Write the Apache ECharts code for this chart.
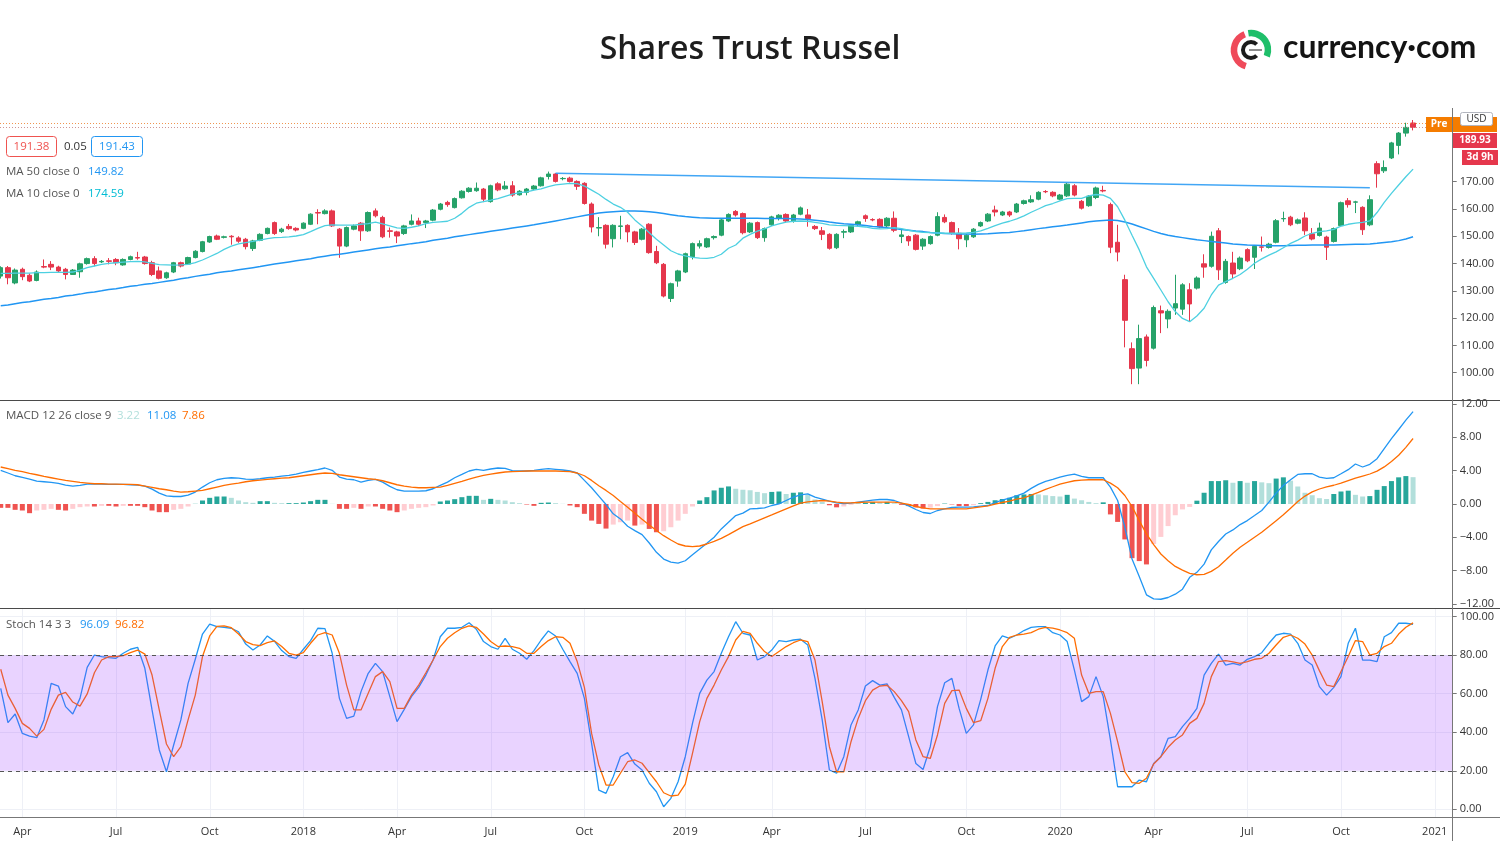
<!DOCTYPE html>
<html><head><meta charset="utf-8">
<script src="https://cdn.jsdelivr.net/npm/echarts@6/dist/echarts.min.js"></script>
<style>html,body{margin:0;padding:0;background:#fff}#c{width:1500px;height:841px}</style>
</head><body><div id="c"></div>
<script>
// ---------- data ----------
const startWeek = '2017-03-13';   // first weekly bar (Monday)
const weekCount = 202;            // 197 bars + 5 empty future weeks
const xTickDates = ['2017-04-03','2017-07-03','2017-10-02','2018-01-01','2018-04-02','2018-07-02','2018-10-01','2019-01-07','2019-04-01','2019-07-01','2019-10-07','2020-01-06','2020-04-06','2020-07-06','2020-10-05','2021-01-04'];
const xTickLabels = ['Apr','Jul','Oct','2018','Apr','Jul','Oct','2019','Apr','Jul','Oct','2020','Apr','Jul','Oct','2021'];
const priceTicks = [100,110,120,130,140,150,160,170];
const macdTicks = [-12,-8,-4,0,4,8,12];
const stochTicks = [0,20,40,60,80,100];

const candleOpen = [
135.4,138.5,132.9,137.9,135.7,133.8,138.9,139.7,138.7,137.9,
136.0,137.0,140.0,141.8,140.6,141.0,141.5,139.5,141.5,142.2,
142.4,140.3,137.3,134.8,136.9,140.3,139.8,142.2,144.4,147.9,
150.1,149.6,150.0,149.4,148.9,145.5,148.5,151.0,155.0,151.7,
153.6,152.9,152.9,154.4,158.7,158.3,159.3,152.6,146.4,152.6,
154.8,152.0,159.3,156.9,152.0,151.6,151.0,154.4,155.6,155.0,
155.9,159.9,162.4,160.5,164.1,166.4,166.7,167.3,162.7,169.2,
167.4,168.5,165.2,166.1,167.3,168.5,171.9,172.8,171.1,171.3,
170.1,169.4,161.8,153.0,154.0,149.1,153.6,154.0,151.6,148.9,
154.4,144.4,139.7,127.2,133.6,136.9,142.5,146.4,146.1,149.5,
150.4,155.6,159.1,158.3,151.6,155.0,149.5,154.2,156.6,158.0,
155.4,158.1,157.8,153.6,152.0,150.7,145.8,151.5,151.6,154.2,
157.5,156.1,156.2,153.8,156.6,149.9,149.9,150.4,146.4,147.3,
150.4,156.9,155.0,151.1,148.7,149.8,153.8,155.6,159.6,157.8,
158.9,158.9,162.0,162.6,163.6,166.4,166.1,163.6,164.8,168.5,
162.8,161.2,164.2,166.8,161.6,147.8,134.1,108.8,101.7,113.1,
109.0,122.7,119.7,123.7,123.3,130.4,131.0,139.9,139.0,152.0,
133.1,140.2,138.1,145.1,142.3,146.1,145.9,147.8,156.4,157.0,
154.8,156.7,150.9,150.3,149.7,148.1,153.9,163.0,162.5,160.6,
154.2,176.6,174.0,178.7,183.3,187.8,191.5];
const candleClose = [
138.5,134.8,137.6,135.2,133.6,136.9,138.7,138.7,137.3,136.0,
137.6,139.9,141.8,140.0,140.8,140.8,140.3,141.5,142.5,142.0,
140.0,136.0,134.6,136.6,140.3,139.1,142.2,144.5,148.0,149.9,
148.9,149.8,149.8,148.2,146.2,148.3,150.7,152.9,151.0,152.6,
152.8,152.3,154.8,158.1,158.5,159.3,153.8,146.4,153.2,153.8,
152.0,158.7,157.5,149.8,151.8,150.1,153.8,155.6,154.4,155.6,
159.6,161.8,161.6,163.8,166.5,167.6,167.6,163.6,168.5,167.0,
168.4,165.1,166.5,167.3,168.4,171.4,172.8,170.1,171.2,170.1,
168.3,162.0,153.4,153.2,147.1,154.0,153.8,151.6,147.7,152.6,
144.0,140.3,128.1,132.6,137.3,143.6,147.3,147.3,149.1,149.9,
156.0,158.0,157.8,151.3,154.8,149.5,152.8,157.1,157.7,155.6,
157.8,160.4,156.5,152.8,150.7,145.6,150.7,151.7,154.0,155.3,
156.5,156.0,153.4,156.6,152.2,150.5,148.3,145.2,148.9,149.9,
157.2,155.3,151.1,149.1,150.4,152.6,155.0,158.1,158.9,158.9,
157.8,161.8,163.0,163.4,166.1,166.3,164.8,165.1,169.1,165.1,
160.3,164.7,167.7,166.6,146.0,144.2,119.2,101.5,112.5,104.5,
123.9,121.9,122.5,125.3,132.2,125.2,134.7,138.7,150.0,137.7,
140.8,136.2,142.0,141.0,146.3,146.0,147.1,155.7,156.5,154.2,
156.0,152.0,149.0,153.0,146.0,152.8,162.3,161.6,162.6,152.4,
163.4,172.9,175.2,184.2,187.8,189.9,189.93];
const candleLow = [
134.5,132.4,132.4,133.9,133.2,133.5,138.3,137.6,136.7,134.2,
135.8,134.8,139.6,139.0,140.2,139.7,139.4,139.2,141.2,141.4,
139.6,135.4,134.2,134.4,136.5,138.6,139.5,141.9,144.1,147.6,
148.6,149.2,146.9,147.6,145.2,144.6,148.2,150.7,150.5,151.2,
152.4,151.8,152.6,154.1,154.4,158.0,153.4,142.1,146.0,152.2,
148.3,151.6,156.9,149.3,149.5,147.5,150.5,154.0,153.8,153.0,
155.5,159.5,160.8,160.2,163.8,166.0,166.3,162.5,162.3,166.5,
167.0,164.5,164.9,165.0,167.0,168.2,170.8,169.7,170.5,169.7,
167.0,161.6,151.4,150.0,145.5,145.9,148.9,147.8,146.8,148.5,
143.6,139.8,127.6,125.9,131.5,136.5,141.5,145.5,145.7,148.8,
150.0,155.2,157.2,150.7,151.2,149.0,148.0,153.8,155.8,155.0,
155.0,157.7,153.5,152.3,148.6,145.1,145.3,149.3,151.2,153.8,
155.3,155.5,152.9,153.4,151.5,147.5,146.5,144.8,145.0,146.9,
150.0,154.8,150.6,145.2,146.0,149.4,153.4,155.2,157.3,157.4,
157.1,158.5,161.6,162.2,163.2,165.8,164.3,163.2,164.4,164.6,
159.8,160.8,163.6,166.1,143.8,140.8,109.3,95.8,95.8,102.3,
108.5,114.5,116.3,121.2,121.2,118.7,130.5,134.8,138.5,134.0,
132.6,134.6,137.6,140.5,138.0,144.4,145.5,147.4,155.3,153.7,
154.4,150.5,148.5,149.9,141.3,147.7,153.5,160.5,158.5,150.5,
153.7,167.8,173.2,178.3,180.0,186.5,188.8];
const candleHigh = [
139.0,139.1,138.2,138.5,136.4,137.5,141.5,140.9,139.2,138.4,
138.0,140.3,142.2,142.7,141.3,142.0,142.0,141.9,142.9,144.3,
142.8,141.0,138.9,137.0,140.6,140.7,142.5,144.9,148.3,150.2,
150.6,150.2,150.4,150.0,149.4,148.7,151.1,153.2,155.4,153.1,
154.5,153.3,155.1,158.4,159.9,159.9,159.8,153.0,153.6,154.3,
155.2,159.1,160.2,157.5,153.2,152.0,154.2,158.0,156.8,156.0,
160.0,162.2,163.0,164.2,166.9,168.0,169.7,167.7,168.9,169.8,
170.2,170.2,166.9,167.7,168.8,171.8,173.7,173.1,171.7,171.8,
170.5,169.8,162.4,157.0,154.4,154.4,157.5,154.4,152.0,153.0,
154.8,146.5,140.2,133.0,137.7,144.0,147.7,148.5,149.5,150.3,
156.4,158.4,159.6,158.7,155.2,155.4,153.2,157.5,158.1,158.4,
158.2,160.9,160.0,154.1,153.4,151.1,151.1,152.5,154.4,155.7,
158.0,156.6,156.6,157.0,159.1,152.5,150.3,150.8,149.3,150.3,
158.8,158.0,155.4,153.0,150.8,153.0,155.4,158.5,161.2,159.3,
159.3,162.2,163.4,165.0,166.5,166.9,166.5,165.5,169.5,169.1,
163.3,165.1,168.2,168.5,162.3,154.2,135.9,111.1,117.6,114.0,
124.6,124.6,123.2,135.9,132.8,132.8,135.3,143.4,151.7,153.0,
141.7,144.3,142.6,145.6,146.8,149.9,147.6,156.3,159.0,157.5,
156.5,158.8,153.0,155.0,150.2,153.2,162.7,164.0,163.0,161.0,
165.0,177.5,177.8,184.6,188.2,191.6,192.6];
const ma50 = [
124.5,124.8,125.3,125.7,126.0,126.5,126.9,127.2,127.6,128.1,
128.4,128.8,129.3,129.6,130.0,130.5,130.8,131.2,131.7,132.0,
132.4,132.7,133.1,133.5,133.9,134.4,134.8,135.3,135.7,136.1,
136.6,137.0,137.3,137.7,138.1,138.5,138.9,139.4,139.8,140.2,
140.6,141.0,141.4,141.8,142.3,142.7,143.1,143.4,143.8,144.2,
144.6,145.0,145.4,145.8,146.1,146.5,146.9,147.3,147.6,148.0,
148.5,148.9,149.3,149.8,150.2,150.6,151.0,151.4,151.8,152.2,
152.6,153.0,153.4,153.8,154.2,154.7,155.1,155.6,156.1,156.6,
157.1,157.6,158.1,158.5,158.8,159.0,159.2,159.3,159.3,159.2,
159.0,158.7,158.3,157.9,157.5,157.2,157.0,156.8,156.7,156.6,
156.6,156.6,156.6,156.6,156.6,156.6,156.5,156.5,156.5,156.5,
156.4,156.3,156.1,155.9,155.6,155.2,154.9,154.6,154.4,154.2,
153.9,153.6,153.4,153.1,152.8,152.5,152.2,151.9,151.7,151.4,
151.2,151.0,150.9,150.8,150.8,150.7,150.8,150.9,151.1,151.3,
151.4,151.7,152.0,152.4,152.8,153.1,153.5,153.8,154.1,154.5,
154.9,155.3,155.6,155.8,156.0,155.8,155.2,154.5,153.6,152.7,
151.8,151.0,150.4,149.9,149.5,149.1,148.7,148.4,148.1,147.8,
147.5,147.2,147.0,146.8,146.7,146.6,146.5,146.5,146.5,146.6,
146.7,146.7,146.8,146.8,146.8,146.8,146.9,147.0,147.1,147.1,
147.2,147.4,147.7,148.0,148.4,149.0,149.82];
const ma10 = [
136.4,136.4,136.5,136.5,136.5,136.7,136.7,136.8,136.8,136.8,
136.9,137.6,138.5,139.1,139.7,140.1,140.3,140.5,140.7,140.8,
140.6,140.1,139.6,139.5,139.4,139.5,139.7,140.3,141.3,142.5,
143.7,145.2,146.4,147.2,147.7,148.1,148.6,149.1,149.5,149.6,
149.8,150.1,150.6,151.7,152.9,153.9,154.2,154.1,154.1,154.1,
154.4,154.6,155.2,154.5,153.8,153.1,152.9,153.3,153.8,154.6,
155.1,155.3,155.5,156.6,158.4,160.6,162.1,162.7,163.2,163.8,
164.6,165.4,166.0,166.3,166.9,167.4,168.2,168.8,169.1,169.4,
169.3,168.4,166.9,165.4,163.5,161.8,160.6,158.8,156.0,153.8,
151.3,148.9,146.8,144.7,143.5,142.8,142.3,142.0,141.9,142.3,
143.4,145.6,146.8,149.3,150.7,151.9,152.7,153.8,154.5,155.2,
155.5,155.6,155.5,155.1,154.7,154.2,154.0,153.9,153.8,153.6,
153.4,152.9,152.7,152.8,153.2,152.8,152.2,151.7,151.4,151.3,
151.2,151.1,151.1,151.1,151.2,151.4,152.0,152.9,153.9,154.8,
155.5,156.4,157.5,158.8,160.0,161.2,162.0,163.0,163.8,163.9,
163.9,164.8,165.3,165.1,163.9,160.8,155.9,150.4,145.0,138.8,
134.6,130.3,126.0,122.4,119.9,118.7,120.8,123.6,128.5,132.1,
133.4,134.6,136.0,137.9,140.1,141.7,143.1,144.3,145.8,147.4,
148.6,150.1,151.1,151.7,152.0,152.5,153.7,154.4,154.8,155.1,
155.6,158.7,162.4,165.7,168.8,171.8,174.59];
// straight drawn line: [bar index, value]
const trendLineStart = [77, 173.1];
const trendLineEnd = [190, 167.8];
const lastPrice = 189.93;
const prePrice = 191.43;

const macdLine = [
4.03,3.72,3.39,3.19,2.99,2.75,2.67,2.59,2.47,2.27,
2.15,2.23,2.39,2.43,2.39,2.35,2.35,2.35,2.31,2.27,
2.15,1.79,1.31,0.98,0.90,0.90,1.06,1.43,2.03,2.55,
2.91,3.07,3.15,3.11,2.99,2.95,3.03,3.15,3.23,3.35,
3.43,3.59,3.80,3.96,4.12,4.32,4.04,3.23,2.99,2.91,
2.63,2.83,2.95,2.63,2.11,1.71,1.55,1.55,1.55,1.59,
1.83,2.23,2.63,3.15,3.55,3.96,4.16,4.04,4.20,4.32,
4.28,4.00,3.96,3.96,4.04,4.16,4.24,4.16,4.08,3.96,
3.72,2.83,1.95,0.94,-0.06,-1.18,-1.79,-2.67,-3.19,-3.67,
-4.68,-5.80,-6.61,-6.97,-7.09,-6.81,-6.08,-5.40,-4.72,-3.99,
-2.99,-2.19,-1.39,-1.10,
-0.58,-0.54,-0.46,-0.18,0.02,0.42,0.82,1.10,1.22,0.82,
0.58,0.34,0.14,0.06,0.10,0.22,0.34,0.46,0.54,0.54,
0.42,0.10,-0.22,-0.66,-1.02,-1.14,-0.78,-0.58,-0.42,-0.38,
-0.38,-0.34,-0.26,-0.18,0.18,0.46,0.70,0.98,1.31,1.87,
2.35,2.71,2.95,3.23,3.43,3.59,3.31,3.15,3.15,3.15,
2.03,0.42,-2.79,-6.6,-8.7,-10.9,-11.39,-11.43,-11.22,-10.82,
-10.22,-8.8,-8.2,-7.21,-5.5,-4.5,-3.6,-3.11,-2.47,-1.99,
-1.39,-0.78,0.22,1.31,2.23,2.91,3.55,3.63,3.63,3.23,
3.07,3.15,3.63,4.12,4.80,4.44,4.76,5.44,6.65,7.85,
8.94,10.06,11.08];
const macdSignal = [
4.44,4.24,4.04,3.88,3.68,3.51,3.31,3.15,2.99,2.83,
2.71,2.59,2.51,2.43,2.43,2.39,2.39,2.35,2.35,2.31,
2.15,1.99,1.83,1.71,1.55,1.43,1.47,1.55,1.63,1.83,
2.03,2.23,2.39,2.51,2.67,2.79,2.87,2.95,3.03,3.11,
3.15,3.27,3.39,3.51,3.63,3.72,3.68,3.51,3.39,3.27,
3.15,3.03,2.95,2.79,2.55,2.31,2.15,2.03,1.95,1.95,
1.99,2.03,2.23,2.47,2.71,2.99,3.23,3.43,3.59,3.72,
3.84,3.88,3.92,3.96,3.96,3.96,3.96,3.96,3.92,3.88,
3.72,3.39,2.83,2.19,1.63,1.02,0.30,-0.38,-1.10,-1.83,
-2.51,-3.19,-3.80,-4.32,-4.80,-5.04,-5.12,-5.04,-4.80,-4.48,
-4.12,-3.67,-3.19,-2.71,
-2.39,-2.03,-1.67,-1.31,-0.94,-0.58,-0.22,0.10,0.26,0.34,
0.42,0.34,0.22,0.14,0.14,0.18,0.22,0.22,0.22,0.22,
0.22,0.10,-0.06,-0.30,-0.46,-0.58,-0.58,-0.58,-0.58,-0.58,
-0.58,-0.46,-0.34,-0.22,-0.02,0.18,0.34,0.58,0.74,1.06,
1.39,1.75,2.07,2.39,2.59,2.79,2.87,2.91,2.91,2.91,
2.51,1.95,1.02,-0.30,-1.99,-3.59,-4.88,-6.00,-6.81,-7.49,
-7.93,-8.33,-8.49,-8.45,-8.09,-7.53,-6.73,-5.92,-5.20,-4.60,
-3.99,-3.39,-2.71,-2.00,-1.30,-0.50,0.30,0.95,1.45,1.80,
2.05,2.25,2.50,2.80,3.10,3.35,3.60,3.95,4.45,5.10,
5.85,6.80,7.86];
const macdHist = [
-0.46,-0.46,-0.70,-0.78,-1.10,-0.78,-0.70,-0.58,-0.70,-0.78,
-0.58,-0.38,-0.30,-0.30,-0.22,-0.22,-0.30,-0.22,-0.22,-0.22,
-0.38,-0.78,-0.98,-0.98,-0.70,-0.58,-0.30,0.02,0.42,0.74,
0.90,0.90,0.74,0.42,0.22,0.14,0.34,0.34,0.14,0.10,
0.10,0.10,0.18,0.34,0.50,0.50,0.02,-0.58,-0.58,-0.46,
-0.58,-0.30,-0.30,-0.58,-0.78,-0.98,-0.78,-0.58,-0.46,-0.38,
-0.18,0.30,0.42,0.58,0.82,0.98,0.98,0.50,0.62,0.50,
0.42,0.22,0.10,-0.06,-0.22,0.14,0.18,0.10,0.02,-0.18,
-0.38,-1.18,-1.99,-2.39,-2.95,-2.47,-2.19,-1.99,-2.59,-2.47,
-2.99,-3.39,-3.27,-2.79,-1.99,-1.18,-0.30,0.42,0.82,1.63,
1.95,2.11,1.83,1.71,
1.65,1.45,1.30,1.45,1.50,1.20,1.35,1.40,1.10,0.55,
0.25,-0.15,-0.40,-0.30,-0.10,0.05,0.15,0.25,0.20,0.25,
0.10,-0.10,-0.25,-0.40,-0.55,-0.45,-0.25,0.05,-0.05,-0.25,
-0.25,-0.15,0.10,0.25,0.45,0.60,0.75,1.05,1.15,1.20,
1.15,1.05,0.95,0.90,1.10,0.65,0.45,0.25,0.10,0.20,
-1.25,-2.15,-4.25,-6.50,-6.85,-7.25,-4.80,-3.95,-2.65,-1.35,
-0.65,-0.35,0.40,1.35,2.75,2.75,2.85,2.55,2.75,2.55,
2.75,2.60,2.50,3.05,3.20,2.80,2.10,1.35,1.05,0.70,
0.60,1.20,1.50,1.60,1.10,0.90,0.95,1.70,2.15,2.75,
3.20,3.35,3.22];
const stochK = [
62.8,45.0,49.5,39.4,38.0,37.2,46.4,65.4,64.0,53.3,
49.5,57.6,73.7,80.1,79.3,78.7,78.4,81.0,83.1,84.1,
73.2,51.6,30.8,19.5,33.4,46.4,65.4,77.9,91.0,96.2,
94.8,94.5,94.0,92.2,85.8,82.7,85.3,90.0,87.2,82.4,
79.3,78.4,83.1,87.6,94.0,93.8,81.0,57.6,47.2,48.4,
61.1,70.6,75.8,71.5,58.5,45.5,51.9,58.5,63.3,69.7,
77.5,89.6,94.0,94.0,94.5,96.9,93.5,87.1,84.5,83.1,
88.8,83.1,81.0,77.9,82.4,87.9,92.6,90.0,83.1,76.7,
70.6,57.6,34.2,10.0,8.3,16.9,27.3,29.4,23.5,20.4,
13.5,9.1,1.3,5.7,14.3,27.3,44.6,60.2,67.1,71.5,
81.0,89.6,97.4,91.4,
90.5,77.5,79.3,82.7,87.6,87.1,87.9,88.3,85.3,68.0,
46.4,20.4,18.7,27.3,43.8,51.6,64.0,66.8,64.5,65.1,
58.1,51.6,37.7,23.8,20.7,32.5,53.3,65.7,68.0,52.4,
39.4,43.8,57.1,72.3,84.8,90.0,88.8,90.5,92.8,94.5,
94.8,94.8,91.7,90.5,87.1,72.3,55.9,58.5,68.9,58.5,
36.0,11.7,11.7,11.7,15.2,14.3,23.8,27.3,36.8,37.7,
42.9,47.2,52.4,69.7,75.8,80.6,74.9,75.8,74.9,77.9,
79.3,81.3,86.2,90.5,91.4,91.0,86.2,77.5,74.9,63.7,
59.3,63.3,68.9,86.2,94.0,77.5,77.5,76.7,89.6,91.7,
96.6,96.6,96.09];
const stochD = [
72.7,59.3,52.4,44.6,42.0,38.0,41.5,51.9,59.3,60.7,
55.7,53.6,59.9,70.9,77.5,79.3,79.3,79.8,81.3,82.7,
80.6,69.7,51.6,33.9,27.3,32.5,46.4,59.3,79.3,90.0,
95.0,95.2,94.3,91.0,87.1,85.5,85.0,86.5,87.4,84.5,
81.0,80.1,81.3,86.2,90.5,91.7,90.5,81.0,64.5,51.6,
51.6,60.2,68.9,71.5,66.3,52.4,52.4,59.3,64.5,70.9,
77.5,84.5,88.8,91.7,94.0,95.2,94.5,91.0,87.1,84.5,
84.8,84.5,83.6,81.0,81.0,84.5,87.6,89.6,89.3,86.2,
76.7,63.3,39.4,23.0,12.6,12.6,18.7,24.7,25.6,23.9,
19.0,14.3,8.6,6.9,7.4,13.1,29.0,45.5,57.6,64.5,
72.3,79.3,87.9,92.4,
91.4,86.2,81.9,79.3,81.9,84.5,86.5,87.9,87.1,77.5,
55.9,32.5,19.5,19.5,35.1,47.2,56.4,61.9,64.0,64.4,
61.1,56.4,50.7,36.0,27.3,26.4,38.6,55.0,61.6,61.9,
52.4,45.0,46.0,57.6,73.2,84.5,89.3,90.5,91.0,91.7,
93.5,94.5,94.1,93.1,91.7,88.8,69.7,60.2,61.1,61.1,
49.8,35.1,19.5,13.8,13.5,16.1,23.5,27.3,32.2,36.0,
38.6,44.6,47.2,55.0,68.9,76.7,77.2,76.5,75.8,76.7,
77.9,78.4,81.0,85.3,89.3,90.5,88.8,85.8,80.1,72.0,
64.5,63.7,71.5,79.3,87.6,87.1,80.1,81.0,84.5,86.2,
91.0,94.5,96.82];
const stochBand = [20, 80];

// ---------- build ----------
const FONT = "'Open Sans','Noto Sans',sans-serif";
const UP = '#26a269', DOWN = '#e5374c';
const dates = [];
{ const t0 = Date.parse(startWeek + 'T00:00:00Z');
  for (let i = 0; i < weekCount; i++) dates.push(new Date(t0 + i * 7 * 864e5).toISOString().slice(0, 10)); }
const tickIdx = xTickDates.map(d => dates.indexOf(d));
const X_MIN = -0.1, X_MAX = dates.length - 0.5;
const pairs = arr => arr.map((v, i) => [i, v]);
const candles = candleOpen.map((o, i) => [i, o, candleClose[i], candleLow[i], candleHigh[i]]);
const trend = [trendLineStart, trendLineEnd];
const histData = macdHist.map((v, i) => {
  const p = i > 0 ? macdHist[i - 1] : v;
  const c = v >= 0 ? (v >= p ? '#26a69a' : '#b2dfdb') : (v <= p ? '#ef5350' : '#ffcdd2');
  return { value: [i, v], itemStyle: { color: c } };
});
const fmtNum = v => (v < 0 ? '\u2212' + Math.abs(v).toFixed(2) : v.toFixed(2));

function xAxis(gi, show) {
  return { type: 'value', gridIndex: gi, min: X_MIN, max: X_MAX,
    axisLine: { show: false, onZero: false }, axisTick: { show: false }, splitLine: { show: false },
    axisLabel: { show: show, customValues: tickIdx, formatter: v => xTickLabels[tickIdx.indexOf(Math.round(v))] || '',
      color: '#333', fontSize: 11, fontFamily: FONT, margin: 9 } };
}
function yAxis(gi, min, max, ticks) {
  return { type: 'value', gridIndex: gi, position: 'right', min: min, max: max,
    axisLine: { show: false, onZero: false },
    axisTick: { show: true, length: 4, customValues: ticks, lineStyle: { color: '#777' } },
    axisLabel: { customValues: ticks, formatter: fmtNum, color: '#333', fontSize: 11, fontFamily: FONT, margin: 7 },
    splitLine: { show: gi === 2, lineStyle: { color: '#eef0f6' } } };
}

const txt = (x, y, s, color, opts) => Object.assign({ type: 'text', x: x, y: y, silent: true, z: 100,
  style: Object.assign({ text: s, fill: color, fontSize: 11.5, fontFamily: FONT, align: 'left', verticalAlign: 'middle' }, opts || {}) });
const box = (x, y, w, h, fill, stroke, r) => ({ type: 'rect', silent: true, z: 100, shape: { x: x, y: y, width: w, height: h, r: r || 0 },
  style: { fill: fill, stroke: stroke || null, lineWidth: 1 } });
const hline = (x1, x2, y, color) => ({ type: 'line', silent: true, z: 100, shape: { x1: x1, y1: y, x2: x2, y2: y }, style: { stroke: color, lineWidth: 1 } });

const graphics = [
  txt(750, 50, 'Shares Trust Russel', '#1e1e1e', { fontSize: 32, fontWeight: 600, align: 'center' }),
  // logo
  { type: 'arc', silent: true, z: 100, shape: { cx: 1251, cy: 50, r: 17, startAngle: -Math.PI * 0.55, endAngle: Math.PI * 0.12, clockwise: true }, style: { stroke: '#1fbf6a', lineWidth: 6.5, fill: null } },
  { type: 'arc', silent: true, z: 100, shape: { cx: 1251, cy: 50, r: 17, startAngle: Math.PI * 0.6, endAngle: Math.PI * 1.38, clockwise: true }, style: { stroke: '#ef4a5a', lineWidth: 6.5, fill: null } },
  { type: 'arc', silent: true, z: 100, shape: { cx: 1251, cy: 50, r: 8, startAngle: Math.PI * 0.25, endAngle: Math.PI * 1.75, clockwise: true }, style: { stroke: '#1b1b1b', lineWidth: 4, fill: null } },
  hline(1249, 1262, 50, '#1b1b1b'),
  txt(1283, 48, 'currency\u00b7com', '#141414', { fontSize: 32, fontWeight: 700, fontFamily: "Lato, 'Open Sans', sans-serif" }),
  // price legend
  box(6.5, 136.5, 50, 20, '#fff', '#ef5350', 3), txt(31.5, 146.5, '191.38', '#ef5350', { align: 'center' }),
  txt(64, 146.5, '0.05', '#333'),
  box(91.5, 136.5, 51, 20, '#fff', '#2196f3', 3), txt(117, 146.5, '191.43', '#2196f3', { align: 'center' }),
  txt(6, 172, 'MA 50 close 0', '#555'), txt(88, 172, '149.82', '#2196f3'),
  txt(6, 194, 'MA 10 close 0', '#555'), txt(88, 194, '174.59', '#00bcd4'),
  txt(6, 416, 'MACD 12 26 close 9', '#555'), txt(117, 416, '3.22', '#b2dfdb'), txt(147, 416, '11.08', '#2196f3'), txt(182, 416, '7.86', '#ff6d00'),
  txt(6, 625, 'Stoch 14 3 3', '#555'), txt(80, 625, '96.09', '#2196f3'), txt(115, 625, '96.82', '#ff6d00'),
  // panel frame
  hline(0, 1500, 400.5, '#4a4a4a'), hline(0, 1500, 608.5, '#4a4a4a'), hline(0, 1500, 817.5, '#777'),
  { type: 'line', silent: true, z: 100, shape: { x1: 1452.5, y1: 108, x2: 1452.5, y2: 841 }, style: { stroke: '#777', lineWidth: 1 } },
  // axis tags
  box(1453, 117, 44, 15, '#f57c00'),
  box(1460.5, 112.5, 32, 13, '#fff', '#b2b5be', 2), txt(1476.5, 119, 'USD', '#333', { fontSize: 10, align: 'center' }),
  box(1426, 117, 26, 15, '#f57c00'), txt(1439, 124.5, 'Pre', '#fff', { fontSize: 10, fontWeight: 700, align: 'center' }),
  box(1453, 133, 44, 15, '#e5374c'), txt(1475, 140.5, '189.93', '#fff', { fontSize: 10, fontWeight: 700, align: 'center' }),
  box(1462, 150, 36, 15, '#e5374c'), txt(1480, 157.5, '3d 9h', '#fff', { fontSize: 10, fontWeight: 700, align: 'center' })
];

const option = {
  animation: false,
  backgroundColor: '#fff',
  grid: [
    { left: 0, right: 47.3, top: 108, height: 292 },
    { left: 0, right: 47.3, top: 401, height: 207 },
    { left: 0, right: 47.3, top: 609, height: 208.5 }
  ],
  xAxis: [xAxis(0, false), xAxis(1, false), xAxis(2, true)],
  yAxis: [yAxis(0, 90, 197, priceTicks), yAxis(1, -12.48, 12.36, macdTicks), yAxis(2, -4.26, 104, stochTicks)],
  series: [
    { name: 'Price', type: 'candlestick', xAxisIndex: 0, yAxisIndex: 0, data: candles, encode: { x: 0, y: [1, 2, 3, 4] }, barWidth: 5, z: 2,
      itemStyle: { color: UP, color0: DOWN, borderColor: UP, borderColor0: DOWN, borderWidth: 1 },
      markLine: { silent: true, symbol: 'none', label: { show: false },
        data: [ { yAxis: prePrice, lineStyle: { color: '#f08a3c' } }, { yAxis: lastPrice, lineStyle: { color: '#c98a8a' } } ],
        lineStyle: { type: [1, 2], width: 1, opacity: 0.9 } } },
    { name: 'MA 50', type: 'line', xAxisIndex: 0, yAxisIndex: 0, data: pairs(ma50), showSymbol: false, z: 3, lineStyle: { color: '#2196f3', width: 1.5 } },
    { name: 'MA 10', type: 'line', xAxisIndex: 0, yAxisIndex: 0, data: pairs(ma10), showSymbol: false, z: 3, lineStyle: { color: '#4dd0e1', width: 1.3 } },
    { name: 'Trend', type: 'line', xAxisIndex: 0, yAxisIndex: 0, data: trend, showSymbol: false, z: 3, lineStyle: { color: '#2196f3', width: 1.5, opacity: 0.85 } },
    { name: 'Hist', type: 'bar', xAxisIndex: 1, yAxisIndex: 1, data: histData, barWidth: 5, z: 2 },
    { name: 'MACD', type: 'line', xAxisIndex: 1, yAxisIndex: 1, data: pairs(macdLine), showSymbol: false, z: 3, lineStyle: { color: '#2196f3', width: 1.3 } },
    { name: 'Signal', type: 'line', xAxisIndex: 1, yAxisIndex: 1, data: pairs(macdSignal), showSymbol: false, z: 3, lineStyle: { color: '#ff6d00', width: 1.3 } },
    { name: 'VGrid', type: 'custom', xAxisIndex: 2, yAxisIndex: 2, z: 1, silent: true, data: tickIdx.map(i => [i, 0]),
      renderItem: function (params, api) {
        const cs = params.coordSys; const x = Math.round(api.coord([api.value(0), 0])[0]) + 0.5;
        return { type: 'line', shape: { x1: x, y1: cs.y, x2: x, y2: cs.y + cs.height }, style: { stroke: '#eef0f6', lineWidth: 1 } };
      } },
    { name: '%K', type: 'line', xAxisIndex: 2, yAxisIndex: 2, data: pairs(stochK), showSymbol: false, z: 2, lineStyle: { color: '#2196f3', width: 1.3 } },
    { name: '%D', type: 'line', xAxisIndex: 2, yAxisIndex: 2, data: pairs(stochD), showSymbol: false, z: 2, lineStyle: { color: '#ff6d00', width: 1.3 },
      markLine: { silent: true, z: 12, symbol: 'none', label: { show: false }, lineStyle: { color: '#555', type: [4, 4], width: 1 },
        data: [{ yAxis: stochBand[0] }, { yAxis: stochBand[1] }] } },
    { name: 'Band', type: 'custom', xAxisIndex: 2, yAxisIndex: 2, z: 10, silent: true, data: [stochBand],
      renderItem: function (params, api) {
        const cs = params.coordSys;
        const yTop = api.coord([0, api.value(1)])[1];
        const yBot = api.coord([0, api.value(0)])[1];
        return { type: 'rect', shape: { x: cs.x, y: yTop, width: cs.width, height: yBot - yTop },
          style: { fill: 'rgba(153,51,255,0.216)' } };
      } }
  ],
  graphic: graphics
};
const chart = echarts.init(document.getElementById('c'), null, { renderer: 'canvas' });
chart.setOption(option);
</script></body></html>
